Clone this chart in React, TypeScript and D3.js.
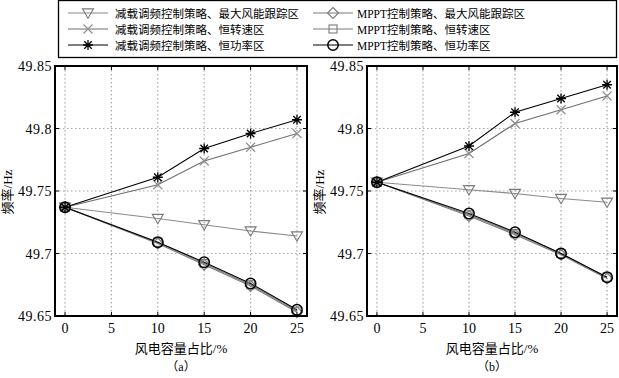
import React from "react";
import * as d3 from "d3";

const xValues = [0, 10, 15, 20, 25];
const xTicks = [0, 5, 10, 15, 20, 25];
const yTicks = [49.65, 49.7, 49.75, 49.8, 49.85];
const yTickLabels = ["49.65", "49.7", "49.75", "49.8", "49.85"];

const seriesNames = [
  "减载调频控制策略、最大风能跟踪区",
  "减载调频控制策略、恒转速区",
  "减载调频控制策略、恒功率区",
  "MPPT控制策略、最大风能跟踪区",
  "MPPT控制策略、恒转速区",
  "MPPT控制策略、恒功率区",
];
const seriesMarkers = ["triangle", "cross", "star", "diamond", "square", "circle"];
const seriesColors = ["#7a7a7a", "#8c8c8c", "#000000", "#7a7a7a", "#7a7a7a", "#000000"];
const lineColors = ["#8a8a8a", "#6e6e6e", "#000000", "#7a7a7a", "#7a7a7a", "#000000"];

// Panel (a)
const aTri = [49.737, 49.728, 49.723, 49.718, 49.714];
const aCross = [49.737, 49.755, 49.774, 49.785, 49.796];
const aStar = [49.737, 49.761, 49.784, 49.796, 49.807];
const aDiamond = [49.737, 49.708, 49.691, 49.674, 49.653];
const aSquare = [49.737, 49.709, 49.692, 49.675, 49.654];
const aCircle = [49.737, 49.709, 49.693, 49.676, 49.655];

// Panel (b)
const bTri = [49.757, 49.751, 49.748, 49.744, 49.741];
const bCross = [49.757, 49.780, 49.804, 49.815, 49.826];
const bStar = [49.757, 49.786, 49.813, 49.824, 49.835];
const bDiamond = [49.757, 49.730, 49.715, 49.699, 49.680];
const bSquare = [49.757, 49.731, 49.716, 49.700, 49.681];
const bCircle = [49.757, 49.732, 49.717, 49.700, 49.681];

const panelA = [aTri, aCross, aStar, aDiamond, aSquare, aCircle];
const panelB = [bTri, bCross, bStar, bDiamond, bSquare, bCircle];

const FONT = "'Liberation Serif', 'Noto Sans CJK SC', serif";

function Marker({ type, x, y, color }: { type: string; x: number; y: number; color: string }) {
  const sw = 1.1;
  if (type === "triangle") {
    const s = 5.5;
    return (
      <path
        d={`M${x - s},${y - s * 0.75}L${x + s},${y - s * 0.75}L${x},${y + s * 0.95}Z`}
        fill="none"
        stroke={color}
        strokeWidth={sw}
      />
    );
  }
  if (type === "cross") {
    const s = 4.5;
    return (
      <path
        d={`M${x - s},${y - s}L${x + s},${y + s}M${x - s},${y + s}L${x + s},${y - s}`}
        stroke={color}
        strokeWidth={sw}
      />
    );
  }
  if (type === "star") {
    const s = 5;
    const d = s * 0.75;
    return (
      <path
        d={`M${x - d},${y - d}L${x + d},${y + d}M${x - d},${y + d}L${x + d},${y - d}M${x},${y - s}L${x},${y + s}M${x - s},${y}L${x + s},${y}`}
        stroke={color}
        strokeWidth={1.3}
      />
    );
  }
  if (type === "diamond") {
    const s = 5.5;
    return (
      <path
        d={`M${x},${y - s}L${x + s},${y}L${x},${y + s}L${x - s},${y}Z`}
        fill="none"
        stroke={color}
        strokeWidth={sw}
      />
    );
  }
  if (type === "square") {
    const s = 4;
    return <rect x={x - s} y={y - s} width={2 * s} height={2 * s} fill="none" stroke={color} strokeWidth={sw} />;
  }
  return <circle cx={x} cy={y} r={5.2} fill="none" stroke={color} strokeWidth={1.5} />;
}

function Panel({
  left,
  right,
  top,
  bottom,
  data,
  xLabel,
  sub,
}: {
  left: number;
  right: number;
  top: number;
  bottom: number;
  data: number[][];
  xLabel: string;
  sub: string;
}) {
  const x = d3.scaleLinear().domain([-1.08, 26.08]).range([left, right]);
  const y = d3.scaleLinear().domain([49.65, 49.85]).range([bottom, top]);
  const line = d3
    .line<number>()
    .x((_, i) => x(xValues[i]))
    .y((v) => y(v));
  const tl = 4;
  const cx = (left + right) / 2;
  const order = [0, 1, 3, 4, 2, 5];
  return (
    <g>
      {xTicks.map((t) => (
        <line key={"gx" + t} x1={x(t)} x2={x(t)} y1={top} y2={bottom} stroke="#a8a8a8" strokeWidth={1.2} strokeDasharray="1.5,2.5" />
      ))}
      {yTicks.slice(1, -1).map((t) => (
        <line key={"gy" + t} x1={left} x2={right} y1={y(t)} y2={y(t)} stroke="#a8a8a8" strokeWidth={1.2} strokeDasharray="1.5,2.5" />
      ))}
      {order.map((si) => (
        <path key={"l" + si} d={line(data[si]) || ""} fill="none" stroke={lineColors[si]} strokeWidth={1.1} />
      ))}
      {order.map((si) => (
        <g key={"m" + si}>
          {data[si].map((v, i) => (
            <Marker key={i} type={seriesMarkers[si]} x={x(xValues[i])} y={y(v)} color={seriesColors[si]} />
          ))}
        </g>
      ))}
      {xTicks.map((t) => (
        <g key={"tx" + t}>
          <line x1={x(t)} x2={x(t)} y1={bottom} y2={bottom - tl} stroke="#000" />
          <line x1={x(t)} x2={x(t)} y1={top} y2={top + tl} stroke="#000" />
          <text x={x(t)} y={bottom + 17} textAnchor="middle" fontSize={14} fontFamily={FONT}>
            {t}
          </text>
        </g>
      ))}
      {yTicks.map((t, i) => (
        <g key={"ty" + t}>
          <line x1={left} x2={left + tl} y1={y(t)} y2={y(t)} stroke="#000" />
          <line x1={right} x2={right - tl} y1={y(t)} y2={y(t)} stroke="#000" />
          <text x={left - 3} y={y(t) + 5} textAnchor="end" fontSize={14} fontFamily={FONT} letterSpacing={0.5}>
            {yTickLabels[i]}
          </text>
        </g>
      ))}
      <rect x={left} y={top} width={right - left} height={bottom - top} fill="none" stroke="#000" strokeWidth={2} />
      <text
        transform={`translate(${left - 43},${(top + bottom) / 2 + 1}) rotate(-90)`}
        textAnchor="middle"
        fontSize={13}
        fontFamily={FONT}
      >
        频率/Hz
      </text>
      <text x={cx} y={bottom + 37} textAnchor="middle" fontSize={13} fontFamily={FONT}>
        {xLabel}
      </text>
      <text x={cx} y={bottom + 55} textAnchor="middle" fontSize={12} fontFamily={FONT}>
        {sub}
      </text>
    </g>
  );
}

export default function App() {
  const legendCols = [
    { lx1: 68, lx2: 108, tx: 115 },
    { lx1: 313, lx2: 353, tx: 357 },
  ];
  const legendRows = [13, 29, 45];
  return (
    <svg width={619} height={378} style={{ position: "absolute", left: 0, top: 0, background: "#fff" }}>
      <rect x={0} y={0} width={619} height={378} fill="#fff" />
      <rect x={58.5} y={0.5} width={558} height={57} fill="#fff" stroke="#000" strokeWidth={1.3} />
      {seriesNames.map((name, i) => {
        const col = legendCols[Math.floor(i / 3)];
        const ry = legendRows[i % 3];
        const mx = (col.lx1 + col.lx2) / 2;
        return (
          <g key={name}>
            <line x1={col.lx1} x2={col.lx2} y1={ry} y2={ry} stroke={lineColors[i]} strokeWidth={1.1} />
            <Marker type={seriesMarkers[i]} x={mx} y={ry} color={seriesColors[i]} />
            <text x={col.tx} y={ry + 4.5} fontSize={11.5} fontFamily={FONT}>
              {name}
            </text>
          </g>
        );
      })}
      <Panel left={55} right={307} top={66} bottom={316} data={panelA} xLabel="风电容量占比/%" sub="（a）" />
      <Panel left={367} right={617} top={66} bottom={316} data={panelB} xLabel="风电容量占比/%" sub="（b）" />
    </svg>
  );
}
